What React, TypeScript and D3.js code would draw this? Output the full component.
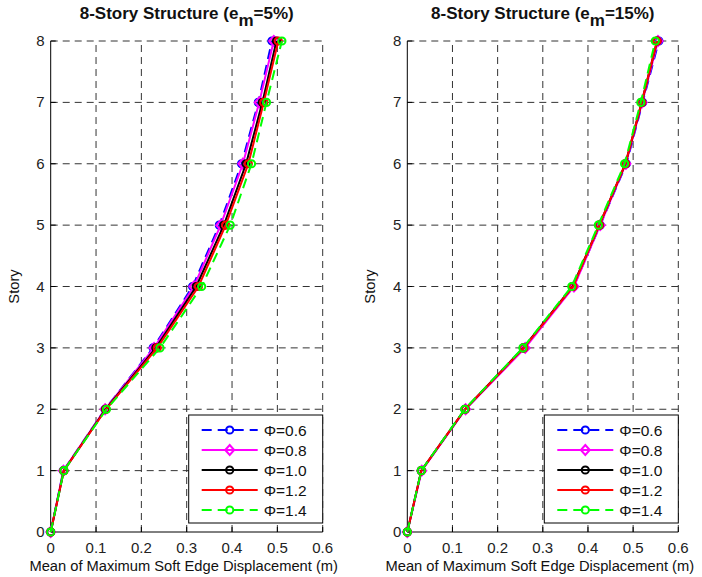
import React, { useEffect, useRef } from 'react'
import * as d3 from 'd3'

const stories = [0, 1, 2, 3, 4, 5, 6, 7, 8]
const xTicks = [0, 0.1, 0.2, 0.3, 0.4, 0.5, 0.6]
const phiLabels = ['Φ=0.6', 'Φ=0.8', 'Φ=1.0', 'Φ=1.2', 'Φ=1.4']

// e_m = 5%
const left06 = [0, 0.028, 0.12, 0.226, 0.313, 0.372, 0.421, 0.458, 0.488]
const left08 = [0, 0.028, 0.12, 0.228, 0.316, 0.375, 0.424, 0.460, 0.492]
const left10 = [0, 0.029, 0.121, 0.232, 0.321, 0.382, 0.431, 0.467, 0.498]
const left12 = [0, 0.029, 0.122, 0.235, 0.326, 0.386, 0.436, 0.470, 0.502]
const left14 = [0, 0.029, 0.123, 0.241, 0.333, 0.396, 0.443, 0.476, 0.510]

// e_m = 15%
const right06 = [0, 0.031, 0.128, 0.258, 0.368, 0.427, 0.485, 0.521, 0.557]
const right08 = [0, 0.032, 0.129, 0.261, 0.369, 0.427, 0.484, 0.520, 0.555]
const right10 = [0, 0.031, 0.128, 0.257, 0.366, 0.425, 0.483, 0.519, 0.553]
const right12 = [0, 0.031, 0.128, 0.258, 0.367, 0.425, 0.483, 0.519, 0.553]
const right14 = [0, 0.031, 0.127, 0.256, 0.364, 0.423, 0.481, 0.517, 0.549]

const styles = [
  { color: '#0000ff', dash: '10,6', marker: 'circle' },
  { color: '#ff00ff', dash: null, marker: 'diamond' },
  { color: '#000000', dash: null, marker: 'circle' },
  { color: '#ff0000', dash: null, marker: 'circle' },
  { color: '#00ff00', dash: '10,6', marker: 'circle' }
]

const panels = [
  { title: '=5%)', x0: 50.7, x1: 322.7, series: [left06, left08, left10, left12, left14] },
  { title: '=15%)', x0: 407.3, x1: 678.3, series: [right06, right08, right10, right12, right14] }
]

const FONT = 'Arial, "Liberation Sans", sans-serif'

const App = () => {
  const ref = useRef<SVGSVGElement>(null)

  useEffect(() => {
    const svg = d3.select(ref.current)
    svg.selectAll('*').remove()
    svg.append('rect').attr('width', 702).attr('height', 577).attr('fill', '#fff')

    const y = d3.scaleLinear().domain([0, 8]).range([532, 41])

    const drawMarker = (g: any, kind: string, cx: number, cy: number, color: string) => {
      if (kind === 'diamond') {
        g.append('path')
          .attr('d', `M${cx},${cy - 5}L${cx + 4.5},${cy}L${cx},${cy + 5}L${cx - 4.5},${cy}Z`)
          .attr('fill', 'none').attr('stroke', color).attr('stroke-width', 2)
      } else {
        g.append('circle').attr('cx', cx).attr('cy', cy).attr('r', 3.6)
          .attr('fill', 'none').attr('stroke', color).attr('stroke-width', 2)
      }
    }

    panels.forEach(p => {
      const x = d3.scaleLinear().domain([0, 0.6]).range([p.x0, p.x1])
      const g = svg.append('g')
      const cx = (p.x0 + p.x1) / 2

      // grid
      xTicks.slice(1).forEach(t => {
        g.append('line').attr('x1', x(t)).attr('x2', x(t)).attr('y1', y(0)).attr('y2', y(8))
          .attr('stroke', '#333').attr('stroke-dasharray', '7,5').attr('stroke-width', 1)
      })
      stories.slice(1).forEach(s => {
        g.append('line').attr('x1', x(0)).attr('x2', x(0.6)).attr('y1', y(s)).attr('y2', y(s))
          .attr('stroke', '#333').attr('stroke-dasharray', '7,5').attr('stroke-width', 1)
      })

      // axes
      g.append('line').attr('x1', x(0)).attr('x2', x(0)).attr('y1', y(0)).attr('y2', y(8))
        .attr('stroke', '#000').attr('stroke-width', 1)
      g.append('line').attr('x1', x(0)).attr('x2', x(0.6)).attr('y1', y(0)).attr('y2', y(0))
        .attr('stroke', '#000').attr('stroke-width', 1)
      xTicks.forEach(t => {
        g.append('line').attr('x1', x(t)).attr('x2', x(t)).attr('y1', y(0)).attr('y2', y(0) - 5)
          .attr('stroke', '#000')
        g.append('text').attr('x', x(t)).attr('y', y(0) + 21).attr('text-anchor', 'middle')
          .attr('font-family', FONT).attr('font-size', 15).attr('fill', '#222').text(String(t))
      })
      stories.forEach(s => {
        g.append('line').attr('x1', x(0)).attr('x2', x(0) + 5).attr('y1', y(s)).attr('y2', y(s))
          .attr('stroke', '#000')
        g.append('text').attr('x', x(0) - 6).attr('y', y(s) + 5).attr('text-anchor', 'end')
          .attr('font-family', FONT).attr('font-size', 15).attr('fill', '#222').text(String(s))
      })

      // labels
      g.append('text').attr('x', cx - 3).attr('y', 571).attr('text-anchor', 'middle')
        .attr('font-family', FONT).attr('font-size', 14.7).attr('fill', '#111')
        .text('Mean of Maximum Soft Edge Displacement (m)')
      g.append('text').attr('transform', `translate(${p.x0 - 32},${y(4)}) rotate(-90)`)
        .attr('text-anchor', 'middle').attr('font-family', FONT).attr('font-size', 14.7)
        .attr('fill', '#111').text('Story')
      const title = g.append('text').attr('x', cx).attr('y', 19).attr('text-anchor', 'middle')
        .attr('font-family', FONT).attr('font-size', 17).attr('font-weight', 'bold').attr('fill', '#111')
      title.append('tspan').text('8-Story Structure (e')
      title.append('tspan').attr('dy', 7).text('m')
      title.append('tspan').attr('dy', -7).text(p.title)

      // series
      const line = d3.line<number>().x(d => x(d)).y((d, i) => y(stories[i]))
      p.series.forEach((vals, k) => {
        const st = styles[k]
        g.append('path').datum(vals).attr('d', line).attr('fill', 'none')
          .attr('stroke', st.color).attr('stroke-width', 2)
          .attr('stroke-dasharray', st.dash)
        vals.forEach((v, i) => drawMarker(g, st.marker, x(v), y(stories[i]), st.color))
      })

      // legend
      const lx = p.x1 - 134, ly = 415
      g.append('rect').attr('x', lx).attr('y', ly).attr('width', 134).attr('height', 108)
        .attr('fill', '#fff').attr('stroke', '#000').attr('stroke-width', 1)
      phiLabels.forEach((lab, k) => {
        const st = styles[k]
        const ry = ly + 15 + k * 20
        g.append('line').attr('x1', lx + 13).attr('x2', lx + 69).attr('y1', ry).attr('y2', ry)
          .attr('stroke', st.color).attr('stroke-width', 2).attr('stroke-dasharray', st.dash)
        drawMarker(g, st.marker, lx + 41, ry, st.color)
        g.append('text').attr('x', lx + 75).attr('y', ry + 5.5).attr('font-family', FONT)
          .attr('font-size', 15.5).attr('fill', '#111').text(lab)
      })
    })
  }, [])

  return (
    <svg ref={ref} width={702} height={577}
      style={{ position: 'absolute', left: 0, top: 0, display: 'block' }} />
  )
}

export default App
